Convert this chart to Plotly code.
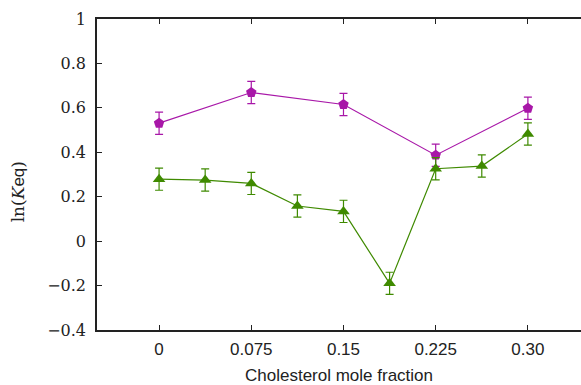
import plotly.graph_objects as go

# Data
mag_x = [0.0, 0.075, 0.15, 0.225, 0.30]
mag_y = [0.531, 0.669, 0.615, 0.387, 0.598]
mag_err = [0.05, 0.05, 0.05, 0.05, 0.05]

grn_x = [0.0, 0.0375, 0.075, 0.1125, 0.15, 0.1875, 0.225, 0.2625, 0.30]
grn_y = [0.279, 0.275, 0.260, 0.158, 0.134, -0.190, 0.326, 0.338, 0.482]
grn_err = [0.05, 0.05, 0.05, 0.05, 0.05, 0.05, 0.05, 0.05, 0.05]

x_ticks = [0, 0.075, 0.15, 0.225, 0.30]
x_tick_labels = ["0", "0.075", "0.15", "0.225", "0.30"]
y_ticks = [-0.4, -0.2, 0, 0.2, 0.4, 0.6, 0.8, 1]
y_tick_labels = ["\u22120.4", "\u22120.2", "0", "0.2", "0.4", "0.6", "0.8", "1"]

MAG = "#a817a8"
GRN = "#3f8a00"
SERIF = "DejaVu Serif"
SANS = "Liberation Sans, Arial, sans-serif"

y_tick_text = ['<span style="font-family:DejaVu Serif">%s</span>' % t for t in y_tick_labels]

fig = go.Figure()
fig.add_trace(go.Scatter(
    x=mag_x, y=mag_y, mode="lines+markers",
    line=dict(color=MAG, width=1.2),
    marker=dict(symbol="pentagon", size=11, color=MAG),
    error_y=dict(type="data", array=mag_err, color=MAG, thickness=1.2, width=4),
    showlegend=False,
))
fig.add_trace(go.Scatter(
    x=grn_x, y=grn_y, mode="lines+markers",
    line=dict(color=GRN, width=1.2),
    marker=dict(symbol="triangle-up", size=11, color=GRN),
    error_y=dict(type="data", array=grn_err, color=GRN, thickness=1.2, width=4),
    showlegend=False,
))

fig.update_layout(
    width=581, height=385,
    margin=dict(l=97, r=0, t=19, b=55, autoexpand=False),
    plot_bgcolor="white", paper_bgcolor="white",
    xaxis=dict(
        range=[-0.0505, 0.3432], automargin=False,
        tickvals=x_ticks, ticktext=x_tick_labels,
        ticks="inside", ticklen=5, tickwidth=1, tickcolor="#222",
        showline=True, linecolor="#222", linewidth=1.5, mirror="ticks",
        showgrid=False, zeroline=False, ticklabelstandoff=3,
        tickfont=dict(family=SANS, size=17, color="#222"),
        title=dict(text="Cholesterol mole fraction",
                   font=dict(family=SANS, size=17, color="#222"),
                   standoff=14),
    ),
    yaxis=dict(
        range=[-0.4, 1.0], automargin=False,
        tickvals=y_ticks, ticktext=y_tick_text,
        ticks="inside", ticklen=5, tickwidth=1, tickcolor="#222",
        showline=True, linecolor="#222", linewidth=1.5, mirror=False,
        showgrid=False, zeroline=False, ticklabelstandoff=6,
        tickfont=dict(family=SERIF, size=16, color="#222"),
    ),
    annotations=[dict(
        text="ln(<i>K</i><span style=\"font-family:Liberation Sans\">eq</span>)",
        xref="paper", yref="paper", x=-0.163, y=0.443,
        xanchor="center", yanchor="middle", textangle=-90, showarrow=False,
        font=dict(family=SERIF, size=17, color="#222"),
    )],
)

fig.write_html(
    "out.html",
    config={"displayModeBar": False},
    post_script="document.body.style.margin='0px';document.body.style.overflow='hidden';",
)
